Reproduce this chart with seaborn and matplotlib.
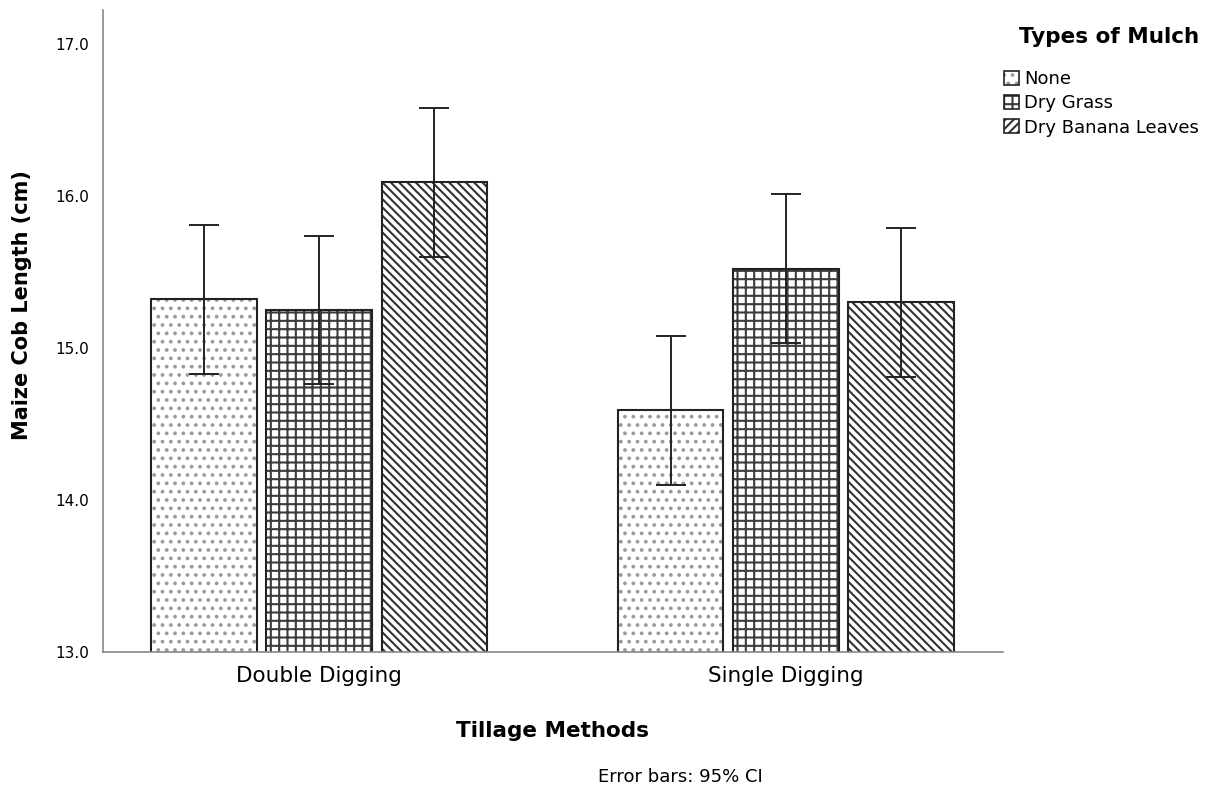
import matplotlib
matplotlib.use("Agg")
import matplotlib.pyplot as plt
import seaborn as sns
import pandas as pd
from matplotlib.patches import Patch, Rectangle
from matplotlib.legend_handler import HandlerTuple

tillage = ["Double Digging", "Single Digging"]
mulch = ["None", "Dry Grass", "Dry Banana Leaves"]
means_double = [15.32, 15.25, 16.09]
means_single = [14.59, 15.52, 15.30]
ci_double = [0.49, 0.49, 0.49]
ci_single = [0.49, 0.49, 0.49]

rows = []
for t, ms, cs in [(tillage[0], means_double, ci_double), (tillage[1], means_single, ci_single)]:
    for m, v, c in zip(mulch, ms, cs):
        rows.append({"Tillage": t, "Mulch": m, "Length": v, "CI": c})
df = pd.DataFrame(rows)

sns.set_theme(style="white")
plt.rcParams["font.family"] = ["DejaVu Sans"]
plt.rcParams["hatch.linewidth"] = 1.5
plt.rcParams["text.color"] = "black"
plt.rcParams["axes.labelcolor"] = "black"
plt.rcParams["xtick.color"] = "black"
plt.rcParams["ytick.color"] = "black"

fig = plt.figure(figsize=(12.23, 7.89), dpi=100)
ax = fig.add_axes([103/1223, 1-652/789, 900/1223, 642/789])

sns.barplot(data=df, x="Tillage", y="Length", hue="Mulch", order=tillage, hue_order=mulch,
            errorbar=None, width=0.74, gap=0.085, palette=["white"]*3,
            linewidth=0, legend=False, ax=ax)

hatches = ["..", "++", "\\\\\\\\"]
legend_hatches = ["..", "++", "////"]
hatch_colors = ["#9a9a9a", "#3c3c3c", "#333333"]
edge = "#222222"
for cont, h, hc, m in zip(ax.containers, hatches, hatch_colors, mulch):
    sub = df[df["Mulch"] == m].set_index("Tillage").loc[tillage]
    for bar, ci in zip(cont, sub["CI"]):
        bar.set_hatch(h)
        bar.set_facecolor("white")
        bar.set_edgecolor(hc)
        bar.set_linewidth(0)
        outline = Rectangle(bar.get_xy(), bar.get_width(), bar.get_height(), fill=False,
                            edgecolor=edge, linewidth=1.5, zorder=bar.get_zorder() + 0.1)
        ax.add_patch(outline)
        xc = bar.get_x() + bar.get_width()/2
        ax.errorbar(xc, bar.get_height(), yerr=ci, color=edge, lw=1.4,
                    capsize=11, capthick=1.4, zorder=5)

ax.set_ylim(13, 13 + 642/152)
ax.set_xlim(-0.463, 1.465)
ax.set_yticks([13, 14, 15, 16, 17])
ax.set_yticklabels(["13.0", "14.0", "15.0", "16.0", "17.0"], fontsize=11)
ax.tick_params(axis="x", labelsize=15.5, length=0, pad=10)
ax.tick_params(axis="y", length=0, pad=10)
for s in ["top", "right"]:
    ax.spines[s].set_visible(False)
for s in ["left", "bottom"]:
    ax.spines[s].set_color("#888888")
    ax.spines[s].set_linewidth(1.2)
ax.set_xlabel("Tillage Methods", fontsize=15.5, fontweight="bold")
ax.xaxis.set_label_coords(0.5, -(721-652)/642)
ax.set_ylabel("Maize Cob Length (cm)", fontsize=15, fontweight="bold", va="center")
ax.yaxis.set_label_coords(-(103-22)/900, (652-305)/642)

handles = []
for h, hc in zip(legend_hatches, hatch_colors):
    fillp = Patch(facecolor="white", edgecolor=hc, hatch=h, linewidth=0)
    outp = Patch(facecolor="none", edgecolor=edge, linewidth=1.2)
    handles.append((fillp, outp))
leg = fig.legend(handles=handles, labels=mulch, loc="upper left",
                 bbox_to_anchor=(988/1223, 1-54/789), frameon=False, fontsize=13,
                 handlelength=0.8, handleheight=0.8, handletextpad=0.3, labelspacing=0.34,
                 handler_map={tuple: HandlerTuple(ndivide=1, pad=0)})
fig.text(1109/1223, 1-37/789, "Types of Mulch", ha="center", va="center",
         fontsize=15.5, fontweight="bold")

fig.text(680/1223, 1-777/789, "Error bars: 95% CI", ha="center", va="center", fontsize=13)

fig.savefig("out.png", dpi=100, facecolor="white")
